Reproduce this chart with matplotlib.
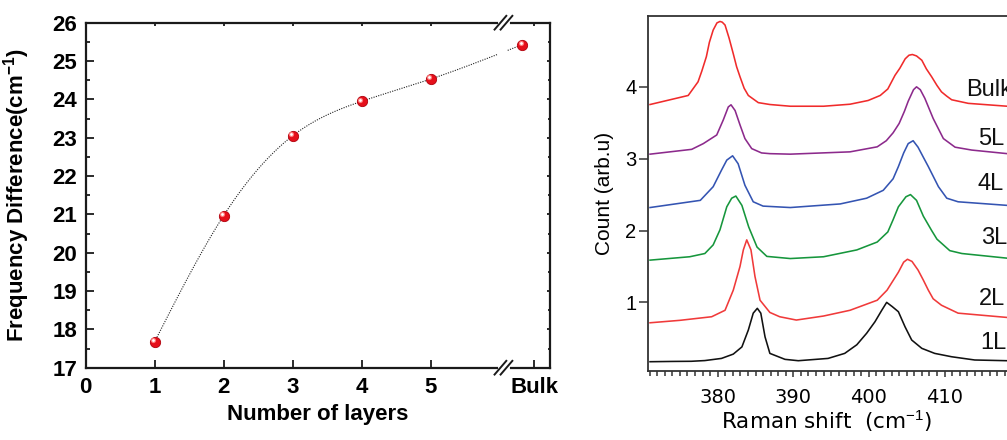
import numpy as np
import matplotlib

matplotlib.use("Agg")
import matplotlib.pyplot as plt  # noqa: E402
from matplotlib import transforms  # noqa: E402
from matplotlib.ticker import MultipleLocator  # noqa: E402

plt.rcParams["font.family"] = ["Liberation Sans", "DejaVu Sans"]
plt.rcParams["mathtext.fontset"] = "custom"
plt.rcParams["mathtext.rm"] = "Liberation Sans"
plt.rcParams["mathtext.bf"] = "Liberation Sans:bold"

# ---- left panel: frequency difference vs number of layers ----
layer_ticks = [0, 1, 2, 3, 4, 5, 6.5]
layer_labels = ["0", "1", "2", "3", "4", "5", "Bulk"]
layer_pos = [1, 2, 3, 4, 5, 6.33]
freq_diff = [17.68, 20.97, 23.05, 23.95, 24.53, 25.43]

# ---- right panel: Raman spectra ----
shift_1L = [371.05, 374.0, 376.5, 378.3, 380.5, 382.06, 383.2, 384.05, 384.7, 385.24,
            385.7, 386.26, 386.9, 388.9, 390.66, 394.6, 396.8, 398.4, 399.7, 400.8,
            401.7, 402.35, 403.1, 403.9, 404.78, 405.66, 407.0, 408.7, 410.95, 414.0, 418.3]
count_1L = [0.174, 0.178, 0.18, 0.19, 0.22, 0.28, 0.38, 0.615, 0.85, 0.917,
            0.85, 0.52, 0.29, 0.207, 0.188, 0.22, 0.29, 0.41, 0.57, 0.73,
            0.89, 1.0, 0.94, 0.87, 0.66, 0.476, 0.36, 0.29, 0.243, 0.198, 0.188]

shift_2L = [371.05, 375.0, 379.2, 380.97, 382.06, 382.95, 383.39, 383.84, 384.4, 384.93,
            385.6, 386.9, 388.2, 390.4, 394.0, 397.5, 401.1, 402.4, 403.9, 404.6, 405.1,
            405.7, 406.5, 407.2, 407.86, 408.5, 409.6, 411.8, 418.3]
count_2L = [0.716, 0.75, 0.80, 0.89, 1.17, 1.50, 1.73, 1.87, 1.73, 1.36,
            1.03, 0.86, 0.80, 0.754, 0.81, 0.89, 1.03, 1.17, 1.42, 1.56, 1.60,
            1.57, 1.45, 1.31, 1.17, 1.05, 0.96, 0.85, 0.79]

shift_3L = [371.05, 376.3, 378.3, 379.4, 380.3, 381.2, 381.85, 382.4, 383.2, 384.1,
            385.2, 386.5, 389.6, 394.0, 398.4, 401.1, 402.5, 403.2, 403.9, 404.9, 405.5,
            406.3, 407.2, 408.3, 409.0, 409.85, 410.7, 412.3, 418.3]
count_3L = [1.588, 1.635, 1.68, 1.80, 2.01, 2.33, 2.45, 2.48, 2.35, 2.05,
            1.77, 1.64, 1.61, 1.635, 1.73, 1.84, 1.98, 2.15, 2.33, 2.47, 2.50,
            2.42, 2.20, 2.0, 1.88, 1.80, 1.72, 1.68, 1.615]

shift_4L = [371.05, 377.7, 379.4, 380.5, 381.2, 381.97, 382.7, 383.6, 384.7, 386.0,
            389.6, 396.2, 399.7, 401.9, 403.2, 403.9, 404.6, 405.2, 405.85, 406.5,
            407.2, 407.86, 409.2, 410.3, 411.8, 418.3]
count_4L = [2.32, 2.42, 2.61, 2.84, 2.98, 3.04, 2.93, 2.63, 2.40, 2.34,
            2.32, 2.37, 2.45, 2.56, 2.72, 2.89, 3.08, 3.21, 3.25, 3.16,
            3.02, 2.89, 2.61, 2.45, 2.40, 2.35]

shift_5L = [371.05, 376.56, 378.1, 379.87, 380.74, 381.4, 381.76, 382.3, 382.95, 383.6,
            384.5, 385.8, 386.9, 389.6, 397.5, 401.1, 402.3, 403.2, 404.0, 404.7, 405.2,
            405.9, 406.3, 406.8, 407.4, 408.5, 409.85, 411.4, 413.6, 418.3]
count_5L = [3.063, 3.13, 3.21, 3.33, 3.54, 3.72, 3.75, 3.67, 3.47, 3.28,
            3.14, 3.08, 3.07, 3.063, 3.095, 3.165, 3.25, 3.36, 3.49, 3.66, 3.80,
            3.96, 4.0, 3.96, 3.84, 3.56, 3.28, 3.16, 3.12, 3.07]

shift_bulk = [371.05, 376.1, 377.4, 377.9, 378.5, 378.9, 379.4, 379.9, 380.3, 380.6,
              380.97, 381.5, 382.06, 382.5, 382.95, 383.5, 384.05, 385.37, 386.9, 389.6,
              394.0, 397.5, 399.9, 401.5, 402.5, 403.45, 404.1, 404.8, 405.3, 405.75,
              406.3, 407.0, 407.6, 408.3, 409.0, 409.6, 410.3, 410.95, 413.15, 418.3]
count_bulk = [3.754, 3.88, 4.07, 4.22, 4.42, 4.62, 4.79, 4.89, 4.91, 4.90,
              4.86, 4.68, 4.46, 4.28, 4.14, 3.98, 3.88, 3.78, 3.754, 3.73,
              3.73, 3.758, 3.81, 3.88, 3.97, 4.16, 4.26, 4.39, 4.44, 4.45,
              4.43, 4.37, 4.25, 4.14, 4.02, 3.93, 3.87, 3.82, 3.77, 3.73]

spectra = [
    ("1L", shift_1L, count_1L, "#111111"),
    ("2L", shift_2L, count_2L, "#F03A3A"),
    ("3L", shift_3L, count_3L, "#16963C"),
    ("4L", shift_4L, count_4L, "#3454B2"),
    ("5L", shift_5L, count_5L, "#8C2A8C"),
    ("Bulk", shift_bulk, count_bulk, "#F02B2B"),
]

INK = "#1A1A1A"


def natural_spline(x, y, xs):
    """Natural cubic spline through (x, y), evaluated at xs (guide line only)."""
    x = np.asarray(x, float)
    y = np.asarray(y, float)
    n = len(x)
    h = np.diff(x)
    A = np.zeros((n, n))
    b = np.zeros(n)
    A[0, 0] = A[-1, -1] = 1.0
    for i in range(1, n - 1):
        A[i, i - 1] = h[i - 1]
        A[i, i] = 2 * (h[i - 1] + h[i])
        A[i, i + 1] = h[i]
        b[i] = 6 * ((y[i + 1] - y[i]) / h[i] - (y[i] - y[i - 1]) / h[i - 1])
    M = np.linalg.solve(A, b)
    idx = np.clip(np.searchsorted(x, xs) - 1, 0, n - 2)
    x0, x1, hh = x[idx], x[idx + 1], h[idx]
    return (M[idx] * (x1 - xs) ** 3 / (6 * hh) + M[idx + 1] * (xs - x0) ** 3 / (6 * hh)
            + (y[idx] / hh - M[idx] * hh / 6) * (x1 - xs)
            + (y[idx + 1] / hh - M[idx + 1] * hh / 6) * (xs - x0))


def break_marks(ax, xd):
    x0, x1 = ax.get_xlim()
    fx = (xd - x0) / (x1 - x0)
    for y0 in (0.0, 1.0):
        ax.plot([fx - 0.008, fx + 0.008], [y0, y0], color="white", lw=3.5,
                transform=ax.transAxes, clip_on=False, zorder=5)
        for off in (-0.0065, 0.0065):
            ax.plot([fx + off - 0.014, fx + off + 0.014], [y0 - 0.022, y0 + 0.022],
                    color=INK, lw=1.4, transform=ax.transAxes, clip_on=False,
                    zorder=6, solid_capstyle="butt")


fig = plt.figure(figsize=(10.07, 4.40), dpi=100)

# ------------------------------------------------------------- left panel
ax1 = fig.add_axes([0.0851, 0.1643, 0.4611, 0.7841])
ax1.set_xlim(0, 6.73)
ax1.set_ylim(17, 26)

xs = np.linspace(layer_pos[0], layer_pos[-1], 500)
ys = natural_spline(layer_pos, freq_diff, xs)
ys[(xs > 5.98) & (xs < 6.11)] = np.nan
ax1.plot(xs, ys, ls=(0, (1, 1.2)), lw=0.8, color="#222222", zorder=2)

ax1.scatter(layer_pos, freq_diff, s=55, color="#E5101B", edgecolors="#B0000C",
            linewidths=0.6, zorder=4)
hl = transforms.offset_copy(ax1.transData, fig=fig, x=-1.2, y=1.2, units="points")
ax1.scatter(layer_pos, freq_diff, s=14, color="#FF7A7A", lw=0, transform=hl, zorder=5)
ax1.scatter(layer_pos, freq_diff, s=4, color="white", lw=0, transform=hl, zorder=6)

ax1.set_xticks(layer_ticks, layer_labels)
ax1.yaxis.set_major_locator(MultipleLocator(1))
ax1.yaxis.set_minor_locator(MultipleLocator(0.5))
ax1.tick_params(which="both", direction="in", top=True, right=True, color=INK, width=1.3)
ax1.tick_params(which="major", length=5.5, labelsize=16, pad=6)
ax1.tick_params(which="minor", length=2.8)
ax1.tick_params(axis="x", pad=7)
for t in ax1.xaxis.get_major_ticks() + ax1.yaxis.get_major_ticks():
    t.tick2line.set_markersize(2.2)
for t in ax1.yaxis.get_minor_ticks():
    t.tick2line.set_markersize(1.8)
for lbl in ax1.get_xticklabels() + ax1.get_yticklabels():
    lbl.set_fontweight("bold")
for sp in ax1.spines.values():
    sp.set_linewidth(1.6)
    sp.set_color(INK)

ax1.set_xlabel("Number of layers", fontsize=16, fontweight="bold")
ax1.xaxis.set_label_coords(0.5, -0.105)
ax1.set_ylabel(r"Frequency Difference(cm$^{\mathbf{-1}}$)", fontsize=16, fontweight="bold")
ax1.yaxis.set_label_coords(-0.115, 0.5)
break_marks(ax1, 6.055)

# ------------------------------------------------------------ right panel
ax2 = fig.add_axes([0.6432, 0.1575, 0.3623, 0.8068])
ax2.set_xlim(370.74, 419.0)
ax2.set_ylim(0.049, 4.99)

for name, sx, cy, col in spectra:
    ax2.plot(sx, cy, color=col, lw=1.15, solid_joinstyle="round")

label_pos = {"Bulk": (412.8, 3.95), "5L": (414.4, 3.27), "4L": (414.4, 2.65),
             "3L": (414.8, 1.89), "2L": (414.56, 1.05), "1L": (414.7, 0.43)}
for name, (tx, ty) in label_pos.items():
    ax2.text(tx, ty, name, ha="left", va="center", fontsize=17, color="#111111",
             clip_on=False)

ax2.set_yticks([1, 2, 3, 4])
ax2.xaxis.set_major_locator(MultipleLocator(10))
ax2.xaxis.set_minor_locator(MultipleLocator(1))
ax2.tick_params(axis="y", direction="out", length=6.5, width=1.1, pad=1.5,
                labelsize=14.5, color="#333333")
ax2.tick_params(axis="x", which="both", direction="out", width=1.1, color="#333333")
ax2.tick_params(axis="x", which="major", length=4.5, pad=8, labelsize=14)
ax2.tick_params(axis="x", which="minor", length=3.5)
for lbl in ax2.get_xticklabels():
    lbl.set_fontfamily("DejaVu Sans")
for sp in ax2.spines.values():
    sp.set_linewidth(1.3)
    sp.set_color("#333333")

ax2.set_xlabel(r"Raman shift  (cm$^{-1}$)", fontsize=15.5, family="DejaVu Sans")
ax2.xaxis.set_label_coords(0.49, -0.105)
ax2.set_ylabel("Count (arb.u)", fontsize=15)
ax2.yaxis.set_label_coords(-0.092, 0.5)

fig.savefig("out.png", dpi=100)
